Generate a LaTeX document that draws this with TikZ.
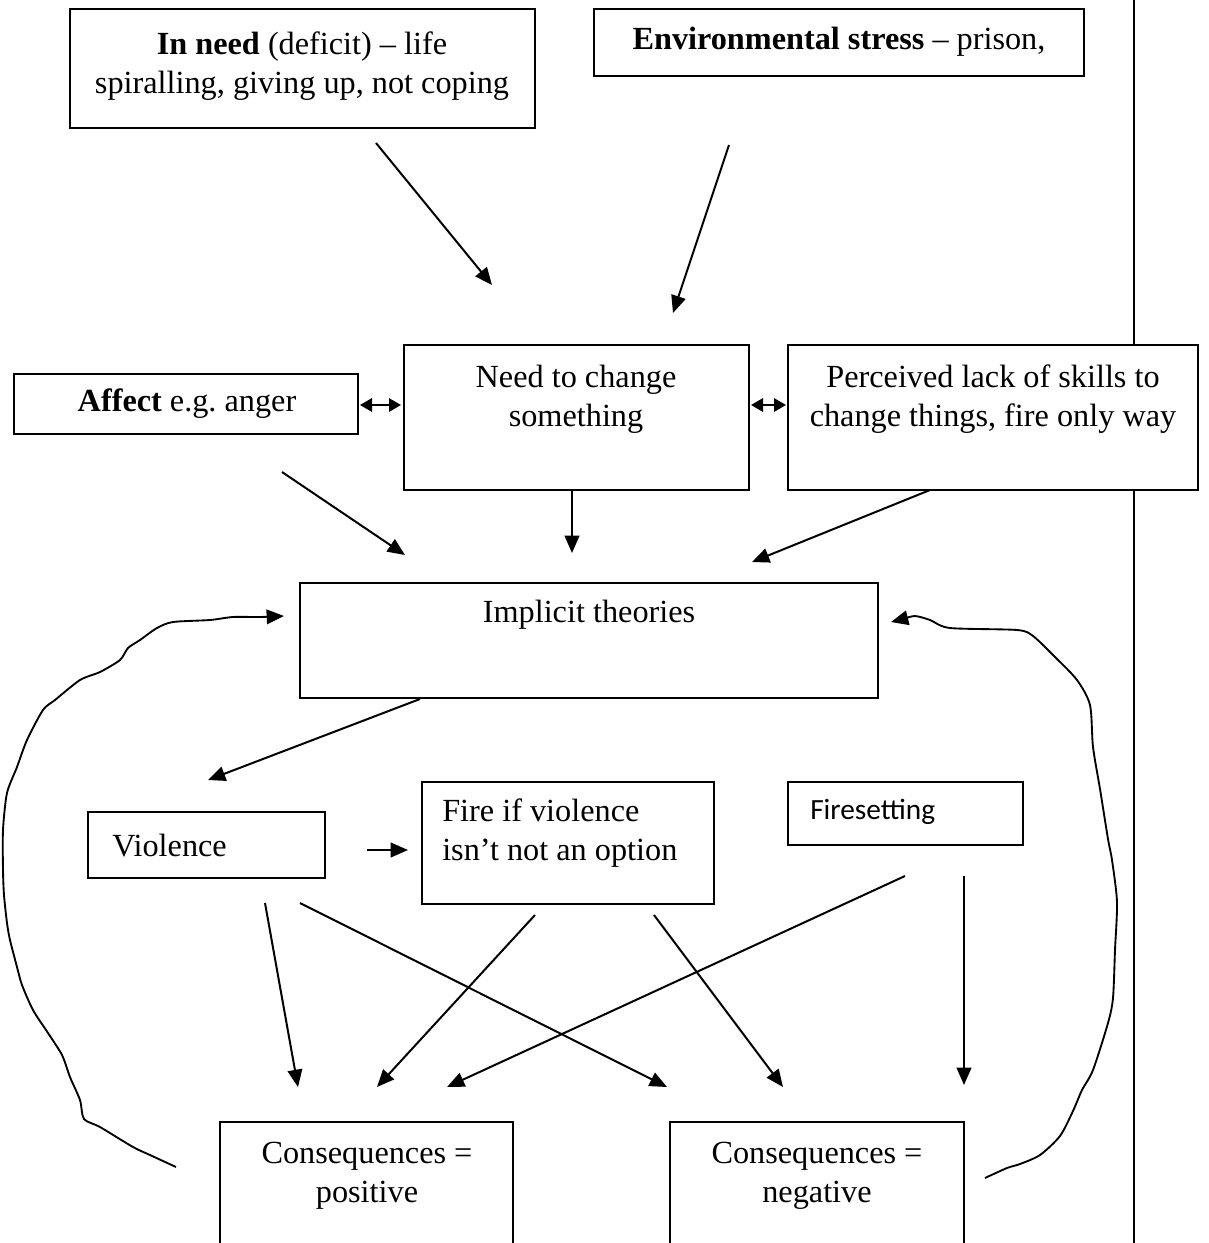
\documentclass[tikz,border=0pt]{standalone}
\usepackage{fontspec}
\setmainfont{Liberation Serif}
\newfontfamily\calibri{Carlito}
\usetikzlibrary{arrows.meta,fit}
\frenchspacing
\begin{document}
\begin{tikzpicture}[x=0.75pt,y=-0.75pt,
  box/.style={draw, fill=white, line width=1.2pt, inner sep=0pt},
  txt/.style={inner sep=0pt, align=center, font=\fontsize{24.2}{29.3}\selectfont},
  ltxt/.style={inner sep=0pt, align=left, anchor=west, font=\fontsize{24.2}{29.3}\selectfont},
  arr/.style={line width=1.5pt, -{Triangle[length=13pt,width=11pt]}},
  dbl/.style={line width=1.6pt, {Triangle[length=9pt,width=10pt]}-{Triangle[length=9pt,width=10pt]}},
  loopline/.style={line width=1.4pt, line join=round, -{Triangle[length=13pt,width=11pt]}}]
\useasboundingbox (0,0) rectangle (1208,1243);
\clip (0,0) rectangle (1208,1243);

% right margin rule
\coordinate (rtop) at (1134,0);
\coordinate (rbot) at (1134,1243);
\draw[line width=1.4pt] (rtop) -- (rbot);

% boxes
\node[box, fit={(70,9) (535,128)}] (needbox) {};
\node[txt] (needtxt) at (302,66) {\textbf{In need} (deficit) – life\\spiralling, giving up, not coping};

\node[box, fit={(594,9) (1084,76)}] (envbox) {};
\node[txt] (envtxt) at (839,42) {\textbf{Environmental stress} – prison,};

\node[box, fit={(14,374) (358,434)}] (affbox) {};
\node[txt] (afftxt) at (187,404) {\textbf{Affect} e.g.\ anger};

\node[box, fit={(404,345) (749,490)}] (chgbox) {};
\node[txt] (chgtxt) at (576,399) {Need to change\\something};

\node[box, fit={(788,345) (1198,490)}] (perbox) {};
\node[txt] (pertxt) at (993,399) {Perceived lack of skills to\\change things, fire only way};

\node[box, fit={(300,583) (878,698)}] (impbox) {};
\node[txt] (imptxt) at (589,615) {Implicit theories};

\node[box, fit={(88,812) (325,878)}] (viobox) {};
\node[ltxt] (viotxt) at (112,846) {Violence};

\node[box, fit={(422,782) (714,904)}] (firebox) {};
\node[ltxt] (firetxt) at (442,833) {Fire if violence\\isn’t not an option};

\node[box, fit={(788,782) (1023,845)}] (fsbox) {};
\node[inner sep=0pt, anchor=west, font=\calibri\fontsize{22}{26}\selectfont] (fstxt) at (810,812) {Firesetting};

\node[box, fit={(220,1122) (513,1260)}] (posbox) {};
\node[txt] (postxt) at (367,1176) {Consequences =\\positive};

\node[box, fit={(670,1122) (964,1260)}] (negbox) {};
\node[txt] (negtxt) at (817,1176) {Consequences =\\negative};

% arrow end points
\coordinate (a1s) at (376,143);  \coordinate (a1e) at (492,285);
\coordinate (a2s) at (729,145);  \coordinate (a2e) at (673,313);
\coordinate (d1s) at (360,405);  \coordinate (d1e) at (401,405);
\coordinate (d2s) at (751,405);  \coordinate (d2e) at (786,405);
\coordinate (b1s) at (282,472);  \coordinate (b1e) at (405,555);
\coordinate (b2s) at (572,491);  \coordinate (b2e) at (572,553);
\coordinate (b3s) at (930,490);  \coordinate (b3e) at (752,562);
\coordinate (c1s) at (420,699);  \coordinate (c1e) at (208,780);
\coordinate (vfs) at (367,850);  \coordinate (vfe) at (408,850);
\coordinate (v1s) at (265,903);  \coordinate (v1e) at (298,1087);
\coordinate (v2s) at (300,903);  \coordinate (v2e) at (667,1087);
\coordinate (f1s) at (535,915);  \coordinate (f1e) at (377,1087);
\coordinate (f2s) at (654,915);  \coordinate (f2e) at (783,1087);
\coordinate (s1s) at (905,876);  \coordinate (s1e) at (447,1087);
\coordinate (s2s) at (964,876);  \coordinate (s2e) at (964,1085);

\draw[arr] (a1s) -- (a1e);
\draw[arr] (a2s) -- (a2e);
\draw[dbl] (d1s) -- (d1e);
\draw[dbl] (d2s) -- (d2e);
\draw[arr] (b1s) -- (b1e);
\draw[arr] (b2s) -- (b2e);
\draw[arr] (b3s) -- (b3e);
\draw[arr] (c1s) -- (c1e);
\draw[arr] (vfs) -- (vfe);
\draw[arr] (v1s) -- (v1e);
\draw[arr] (v2s) -- (v2e);
\draw[arr] (f1s) -- (f1e);
\draw[arr] (f2s) -- (f2e);
\draw[arr] (s1s) -- (s1e);
\draw[arr] (s2s) -- (s2e);

% hand-drawn feedback loops
\draw[loopline] plot[smooth, tension=0.45] coordinates {
 (176,1167) (150,1155) (133,1147) (100,1127) (84,1119) (80,1100) (70,1077) (62,1055)
 (48,1033) (33,1010) (22,985) (17,967) (10,940) (7,923) (4,895) (3,870) (3,830)
 (7,793) (17,767) (27,740) (43,710) (55,700) (80,680) (100,672) (120,660) (128,648)
 (140,640) (157,628) (173,622) (210,620) (233,617) (260,617) (284,616)};
\draw[loopline] plot[smooth, tension=0.45] coordinates {
 (985,1178) (1007,1168) (1020,1164) (1040,1155) (1060,1136) (1073,1111) (1082,1090)
 (1093,1070) (1108,1023) (1113,998) (1115,950) (1117,902) (1112,860) (1108,839)
 (1100,789) (1093,747) (1090,705) (1077,680) (1055,657) (1033,636) (1017,630) (950,628)
 (930,620) (915,616) (903,619) (891,622)};
\end{tikzpicture}
\end{document}
